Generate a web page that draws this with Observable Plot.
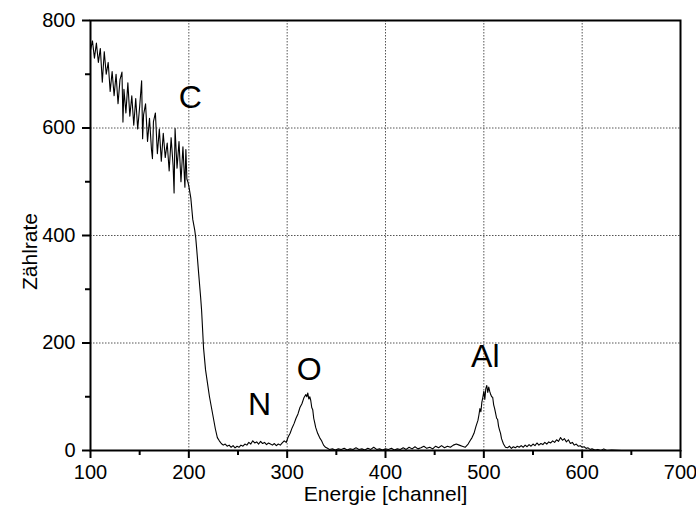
<!DOCTYPE html>
<html>
<head>
<meta charset="utf-8">
<script src="https://cdn.jsdelivr.net/npm/d3@7"></script>
<script src="https://cdn.jsdelivr.net/npm/@observablehq/plot@0.6"></script>
<style>
  html, body { margin: 0; padding: 0; background: #fff; }
  #chart svg { display: block; }
</style>
</head>
<body>
<div id="chart"></div>
<script>
// Spectrum: channel numbers and count rates
const channel = [
  100,102,104,106,108,110,112,114,116,118,120,122,124,126,128,130,132,133,134,136,
  138,140,142,144,146,148,150,152,153,154,156,158,160,162,163,164,166,168,170,172,
  174,176,178,180,182,184,185,186,188,190,192,194,196,197,198,199,
  200,202,204,206,207,208,210,212,213,215,217,219,221,223,225,227,229,231,233,235,
  237,239,241,243,245,247,249,251,253,255,257,259,261,263,265,267,269,271,273,275,
  277,279,281,283,285,287,289,291,293,295,297,299,301,303,305,307,309,311,313,315,
  317,319,320,321,322,323,324,325,326,327,328,329,331,333,335,337,339,341,343,346,
  349,352,355,358,361,364,367,370,373,376,379,382,385,388,391,394,397,400,403,406,
  409,412,415,418,421,424,427,430,433,436,439,442,445,448,451,454,457,460,463,466,
  469,472,475,478,481,484,486,488,490,492,494,495,496,497,498,499,500,501,502,503,
  504,505,506,507,508,509,510,511,512,513,514,515,516,517,518,520,522,524,526,528,
  530,532,534,536,538,540,542,544,546,548,550,552,554,556,558,560,562,564,566,568,
  570,572,574,576,578,580,582,584,586,588,590,592,594,596,598,600,602,604,606,608,
  610,613,616,619,622,625,630,640,650,660,670,680,690,700
];
const counts = [
  745,762,730,758,722,748,685,742,700,722,668,705,660,700,645,690,704,611,672,628,
  684,622,660,605,655,598,640,688,580,625,645,575,618,560,543,612,628,552,598,538,
  590,545,572,520,582,530,479,599,525,575,500,565,490,560,505,500,
  492,470,430,410,396,375,329,285,260,190,150,125,100,80,60,40,24,18,13,10,
  12,8,10,6,9,5,8,6,10,8,12,10,15,12,18,14,16,12,17,13,
  15,11,14,12,10,13,9,12,10,14,18,15,25,32,42,50,60,68,80,87,
  98,104,100,107,96,100,93,80,76,60,52,43,32,24,18,10,6,4,2,3,
  1,3,2,4,1,3,2,5,2,3,1,4,2,6,2,3,1,3,2,4,
  1,3,2,5,2,6,3,7,3,5,8,4,6,3,8,5,9,5,8,6,
  10,12,10,8,6,12,18,24,32,45,56,66,78,72,90,99,110,95,115,121,
  108,118,110,104,100,99,85,78,69,60,58,45,38,32,22,12,6,5,8,4,
  7,5,8,6,9,6,10,7,11,8,12,9,14,10,13,11,15,12,16,14,
  18,15,20,17,24,19,22,16,20,13,15,10,12,8,9,6,7,4,5,2,
  3,1,2,0,3,0,1,0,0,0,0,0,0,0
];

// Peak annotations
const peakLabels = ["C", "N", "O", "Al"];
const peakX = [201.5, 272, 322.5, 501.5];
const peakY = [657, 86, 151, 175];

// Axis ticks
const xMajor = [100, 200, 300, 400, 500, 600, 700];
const xMinor = [150, 250, 350, 450, 550, 650];
const yMajor = [0, 200, 400, 600, 800];
const yMinor = [100, 300, 500, 700];
const xGrid = [200, 300, 400, 500, 600];
const yGrid = [200, 400, 600];

const data = channel.map((c, i) => ({channel: c, count: counts[i]}));
const labels = peakLabels.map((t, i) => ({t, x: peakX[i], y: peakY[i]}));

const chart = Plot.plot({
  width: 696,
  height: 518,
  marginLeft: 90,
  marginRight: 16,
  marginTop: 20,
  marginBottom: 68,
  style: {fontFamily: "'Liberation Sans', Arial, sans-serif", fontSize: "20px", color: "#000", background: "#fff"},
  x: {domain: [100, 700]},
  y: {domain: [0, 800]},
  marks: [
    Plot.ruleX(xGrid, {stroke: "#555", strokeWidth: 1, strokeDasharray: "1.5,1.5"}),
    Plot.ruleY(yGrid, {stroke: "#555", strokeWidth: 1, strokeDasharray: "1.5,1.5"}),
    Plot.line(data, {x: "channel", y: "count", stroke: "#000", strokeWidth: 1.1}),
    Plot.text(labels, {x: "x", y: "y", text: "t", fontSize: 32, fill: "#000"}),
    Plot.frame({stroke: "#000", strokeWidth: 2}),
    Plot.axisX(xMajor, {tickSize: 8, tickPadding: 6, strokeWidth: 2, fontSize: 20, label: null}),
    Plot.axisX(xMinor, {tickSize: 5, strokeWidth: 2, text: null, label: null}),
    Plot.axisY(yMajor, {tickSize: 8, tickPadding: 7, strokeWidth: 2, fontSize: 20, label: null}),
    Plot.axisY(yMinor, {tickSize: 5, strokeWidth: 2, text: null, label: null}),
    Plot.text(["Energie [channel]"], {frameAnchor: "bottom", lineAnchor: "middle", textAnchor: "middle", dy: 44, fontSize: 21, fill: "#000"}),
    Plot.text(["Zählrate"], {frameAnchor: "left", lineAnchor: "middle", textAnchor: "middle", dx: -60, dy: 16, rotate: -90, fontSize: 21, fill: "#000"})
  ]
});
document.getElementById("chart").appendChild(chart);
</script>
</body>
</html>
